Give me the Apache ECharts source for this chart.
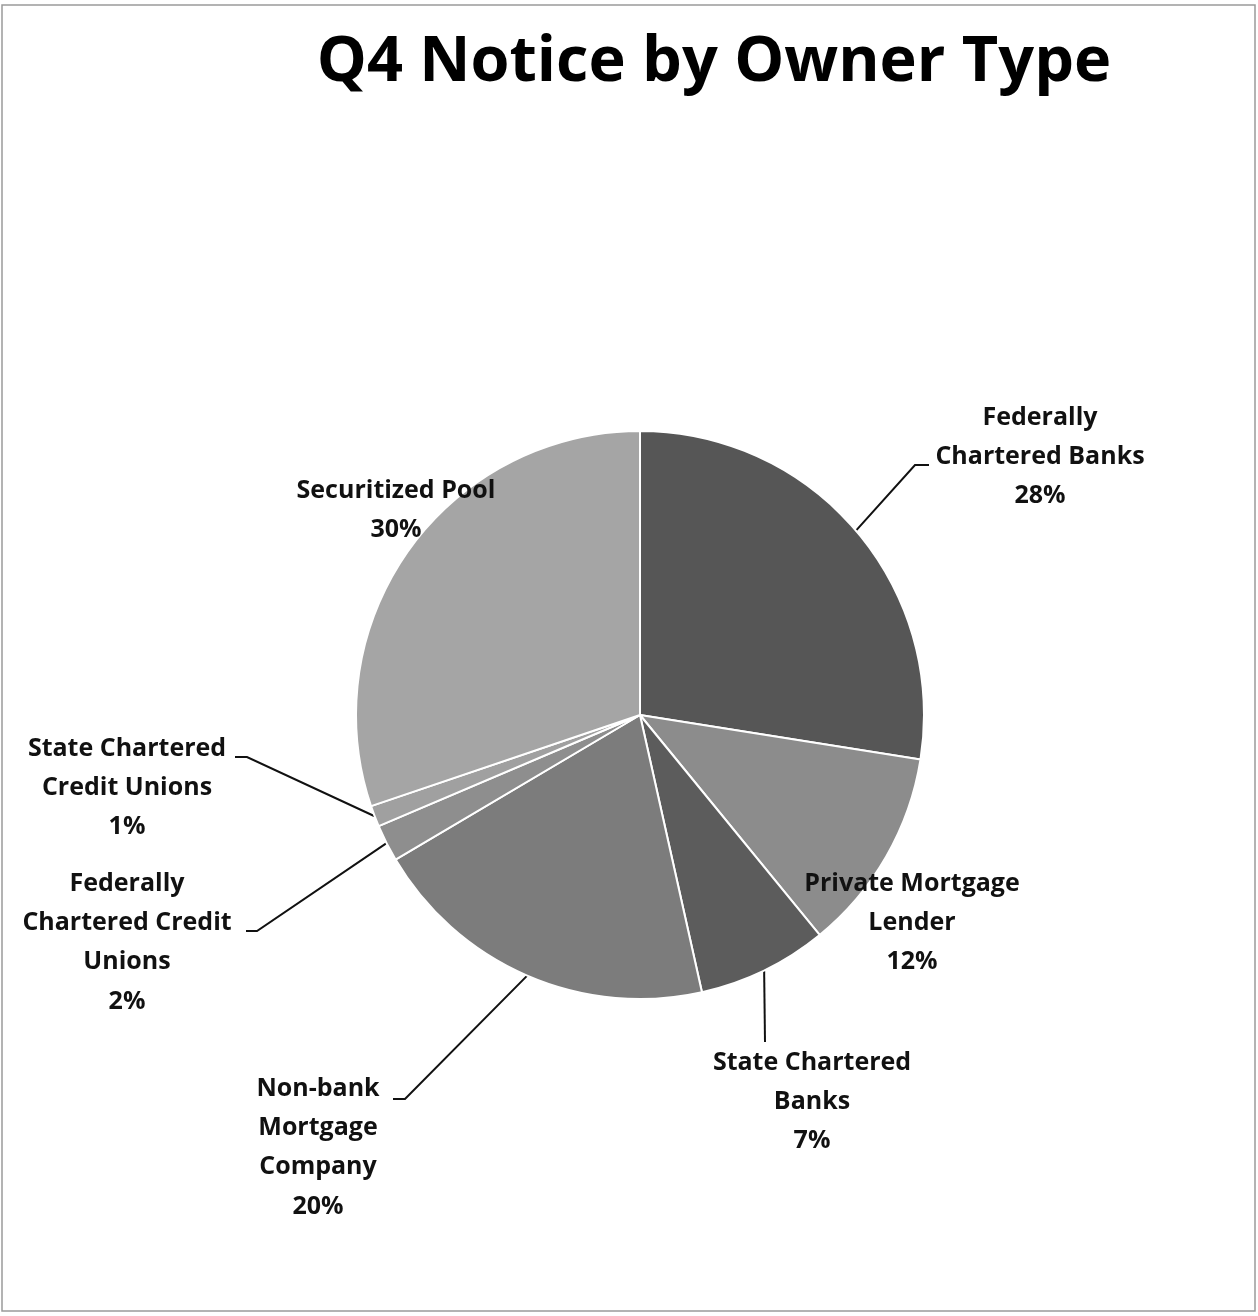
<!DOCTYPE html>
<html><head><meta charset="utf-8">
<script src="https://cdn.jsdelivr.net/npm/echarts@6/dist/echarts.min.js"></script>
<style>html,body{margin:0;padding:0;background:#fff}#c{width:1258px;height:1316px}</style>
</head><body><div id="c"></div>
<script>
const title = 'Q4 Notice by Owner Type';
const categories = ['Federally\nChartered Banks', 'Private Mortgage\nLender', 'State Chartered\nBanks', 'Non-bank\nMortgage\nCompany', 'Federally\nChartered Credit\nUnions', 'State Chartered\nCredit Unions', 'Securitized Pool'];
const values = [27.5, 11.6, 7.4, 20.0, 2.1, 1.2, 30.2];
const colors = ['#565656', '#8c8c8c', '#5c5c5c', '#7c7c7c', '#8e8e8e', '#a0a0a0', '#a5a5a5'];

// label placement (layout only)
const labelPos = [
  {x: 1040, y: 398, line: [[915, 465], [929, 465]]},
  {x: 912, y: 864, line: null},
  {x: 812, y: 1043, line: [[765, 1042], [765, 1042]]},
  {x: 318, y: 1069, line: [[405, 1099], [393, 1099]]},
  {x: 127, y: 864, line: [[257, 931], [246, 931]]},
  {x: 127, y: 729, line: [[247, 757], [235, 757]]},
  {x: 396, y: 471, line: null}
];

const total = values.reduce((a, b) => a + b, 0);
const chart = echarts.init(document.getElementById('c'), null, {renderer: 'canvas'});
chart.setOption({
  backgroundColor: '#fff',
  animation: false,
  title: {
    text: title, left: 709, top: 27, textAlign: 'center',
    textStyle: {fontFamily: 'Open Sans', fontWeight: 'bold', fontSize: 63, color: '#000'}
  },
  graphic: [{
    type: 'rect', shape: {x: 2, y: 5, width: 1253, height: 1306},
    style: {fill: 'none', stroke: '#9a9a9a', lineWidth: 1.5}, silent: true
  }],
  series: [{
    type: 'pie',
    center: [640, 715],
    radius: 284,
    startAngle: 90,
    clockwise: true,
    itemStyle: {borderColor: '#fff', borderWidth: 2},
    label: {
      show: true,
      position: 'outside',
      formatter: p => p.name + '\n' + Math.round(p.value / total * 100) + '%',
      fontFamily: 'Open Sans', fontWeight: 'bold', fontSize: 25, lineHeight: 39.3,
      color: '#111', align: 'center'
    },
    labelLine: {show: true, length: 20, length2: 10, lineStyle: {color: '#111', width: 2}},
    labelLayout: function (params) {
      const lp = labelPos[params.dataIndex];
      const res = {x: lp.x, y: lp.y, align: 'center', verticalAlign: 'top'};
      if (lp.line && params.labelLinePoints) {
        const pts = params.labelLinePoints;
        res.labelLinePoints = [pts[0], lp.line[0], lp.line[1]];
      }
      return res;
    },
    data: categories.map((n, i) => ({
      name: n, value: values[i],
      itemStyle: {color: colors[i]},
      labelLine: {show: !!labelPos[i].line}
    }))
  }]
});
</script></body></html>
